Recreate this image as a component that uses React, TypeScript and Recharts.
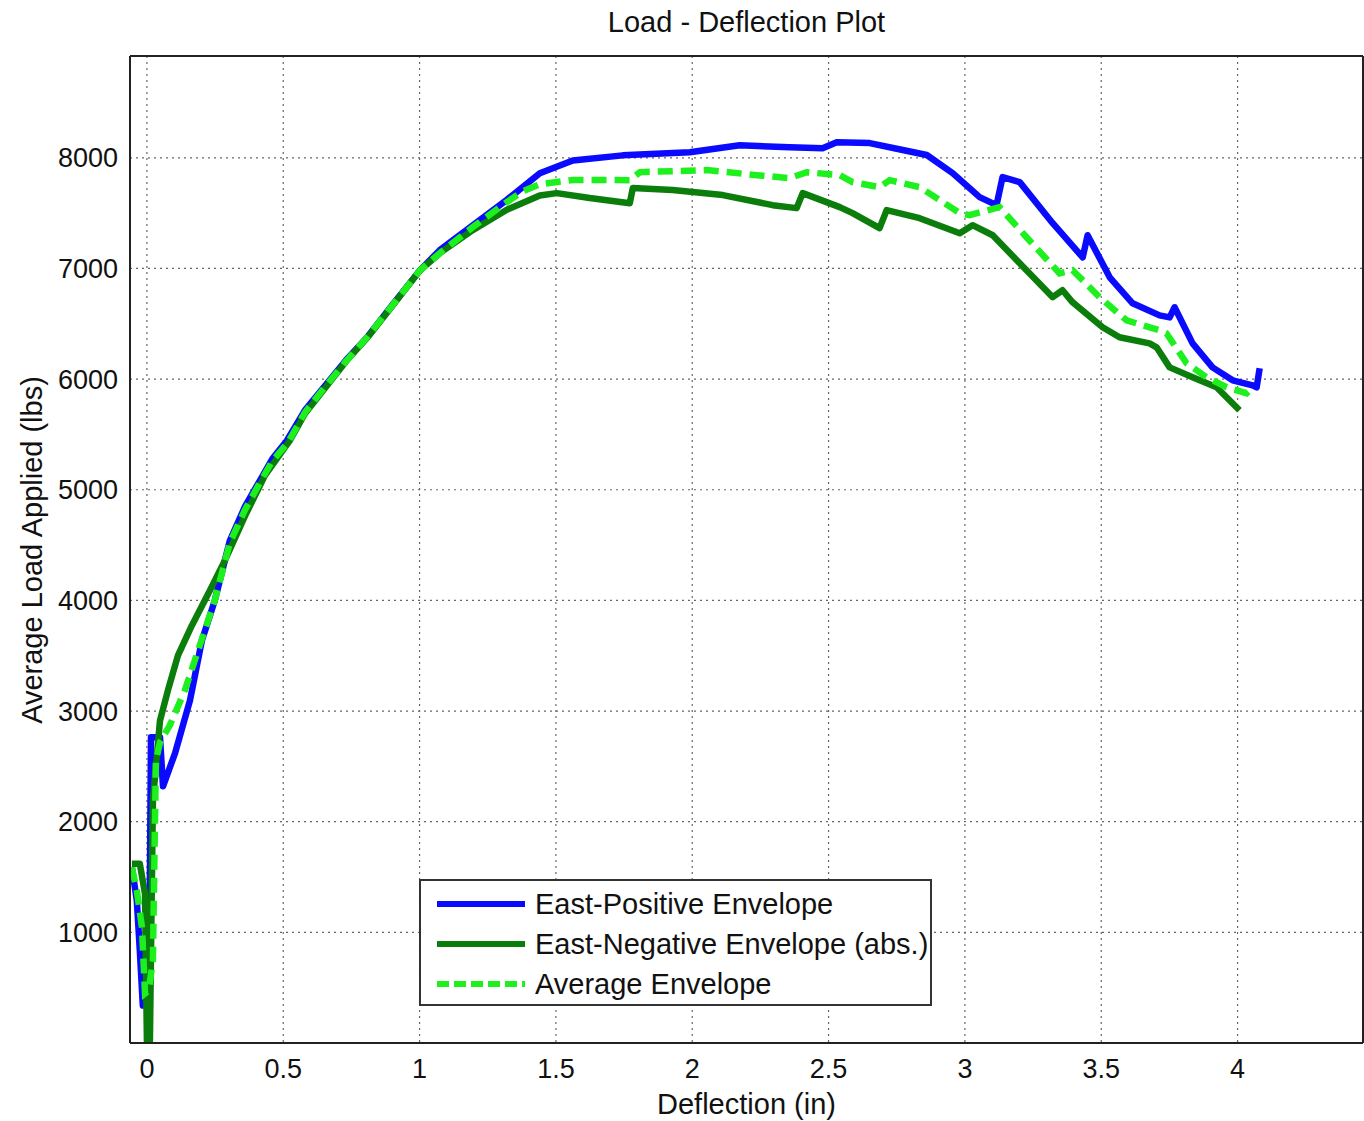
import React from "react";
import {
  LineChart,
  Line,
  XAxis,
  YAxis,
  CartesianGrid,
  Legend,
} from "recharts";

// deflection (in) / load (lbs)
const posX = [-0.055, -0.037, -0.026, -0.015, 0.004, 0.011, 0.015, 0.048, 0.059, 0.103, 0.158, 0.202, 0.249, 0.304, 0.36, 0.414, 0.46, 0.513, 0.58, 0.66, 0.73, 0.807, 0.9, 1.001, 1.074, 1.195, 1.32, 1.441, 1.562, 1.745, 1.991, 2.174, 2.357, 2.478, 2.53, 2.651, 2.772, 2.86, 2.955, 3.054, 3.116, 3.138, 3.201, 3.322, 3.432, 3.45, 3.531, 3.615, 3.714, 3.751, 3.769, 3.835, 3.908, 3.982, 4.055, 4.07, 4.081];
const posY = [1587, 1288, 835, 338, 383, 1468, 2763, 2763, 2320, 2618, 3097, 3640, 4000, 4538, 4850, 5081, 5280, 5443, 5720, 5959, 6170, 6376, 6670, 6982, 7165, 7390, 7620, 7860, 7975, 8022, 8050, 8113, 8095, 8086, 8140, 8133, 8070, 8025, 7862, 7645, 7572, 7825, 7780, 7409, 7100, 7300, 6920, 6685, 6576, 6558, 6649, 6323, 6106, 5989, 5944, 5926, 6098];

const negX = [-0.055, -0.026, -0.007, 0.0, 0.011, 0.022, 0.048, 0.077, 0.114, 0.165, 0.231, 0.286, 0.359, 0.433, 0.524, 0.58, 0.66, 0.73, 0.807, 0.9, 1.001, 1.074, 1.195, 1.32, 1.441, 1.503, 1.624, 1.771, 1.782, 1.928, 2.112, 2.295, 2.383, 2.405, 2.541, 2.588, 2.687, 2.713, 2.834, 2.981, 3.028, 3.102, 3.201, 3.322, 3.358, 3.395, 3.505, 3.567, 3.677, 3.703, 3.751, 3.835, 3.923, 4.007];
const negY = [1620, 1620, 1350, 20, 20, 2191, 2914, 3186, 3503, 3774, 4090, 4362, 4760, 5130, 5443, 5690, 5940, 6160, 6370, 6660, 6982, 7138, 7346, 7530, 7660, 7681, 7636, 7590, 7726, 7708, 7663, 7572, 7545, 7681, 7554, 7500, 7364, 7527, 7454, 7318, 7391, 7300, 7047, 6740, 6803, 6694, 6468, 6378, 6323, 6287, 6106, 6016, 5926, 5718];

const avgX = [-0.055, -0.037, -0.018, -0.007, 0.007, 0.022, 0.033, 0.048, 0.084, 0.139, 0.194, 0.249, 0.304, 0.36, 0.414, 0.46, 0.517, 0.58, 0.66, 0.73, 0.807, 0.9, 1.001, 1.074, 1.195, 1.32, 1.38, 1.441, 1.562, 1.771, 1.808, 2.053, 2.237, 2.357, 2.42, 2.541, 2.588, 2.687, 2.724, 2.834, 2.981, 3.017, 3.127, 3.226, 3.347, 3.395, 3.494, 3.593, 3.714, 3.739, 3.813, 3.886, 3.96, 4.033, 4.055];
const avgY = [1587, 1378, 1044, 447, 475, 745, 2553, 2718, 2871, 3186, 3594, 4000, 4520, 4820, 5063, 5260, 5425, 5700, 5950, 6160, 6376, 6665, 6982, 7138, 7373, 7600, 7700, 7760, 7800, 7798, 7870, 7889, 7843, 7816, 7870, 7843, 7780, 7735, 7798, 7735, 7500, 7482, 7554, 7282, 6956, 6984, 6740, 6531, 6441, 6414, 6143, 6016, 5926, 5872, 5926];

const xTicks = [0, 0.5, 1, 1.5, 2, 2.5, 3, 3.5, 4];
const yTicks = [1000, 2000, 3000, 4000, 5000, 6000, 7000, 8000];
const seriesNames = ["East-Positive Envelope", "East-Negative Envelope (abs.)", "Average Envelope"];

const toPoints = (xs: number[], ys: number[]) => xs.map((x, i) => ({ x, y: ys[i] }));
const posData = toPoints(posX, posY);
const negData = toPoints(negX, negY);
const avgData = toPoints(avgX, avgY);

const X_DOMAIN: [number, number] = [-0.062, 4.46];
const Y_DOMAIN: [number, number] = [0, 8920];
const FONT = "'Liberation Sans', Arial, sans-serif";
const BLUE = "#0a0aff";
const DARK = "#0b7d0b";
const LIGHT = "#1ef01e";

function LegendBox() {
  const rows = [
    { name: seriesNames[0], color: BLUE, dash: undefined },
    { name: seriesNames[1], color: DARK, dash: undefined },
    { name: seriesNames[2], color: LIGHT, dash: "12 5" },
  ];
  return (
    <div
      style={{
        width: 513,
        height: 127,
        boxSizing: "border-box",
        border: "2px solid #333",
        background: "#fff",
        fontFamily: FONT,
        fontSize: 29,
        color: "#111",
        paddingTop: 3,
      }}
    >
      {rows.map((r) => (
        <div key={r.name} style={{ display: "flex", alignItems: "center", height: 40 }}>
          <svg width={114} height={20} style={{ flex: "none" }}>
            <line x1={16} x2={104} y1={10} y2={10} stroke={r.color} strokeWidth={6} strokeDasharray={r.dash} />
          </svg>
          <span>{r.name}</span>
        </div>
      ))}
    </div>
  );
}

export default function App() {
  const labelStyle = {
    position: "absolute" as const,
    textAlign: "center" as const,
    fontFamily: FONT,
    fontSize: 29,
    lineHeight: "34px",
    color: "#111",
  };
  return (
    <div style={{ position: "absolute", left: 0, top: 0, width: 1364, height: 1121, background: "#fff" }}>
      <div style={{ ...labelStyle, left: 130, width: 1233, top: 5 }}>Load - Deflection Plot</div>
      <LineChart
        width={1364}
        height={1121}
        margin={{ top: 56, right: 1, bottom: 18, left: 30 }}
        style={{ fontFamily: FONT }}
      >
        <CartesianGrid stroke="#666" strokeDasharray="2 4" strokeWidth={1.2} />
        <XAxis
          dataKey="x"
          type="number"
          domain={X_DOMAIN}
          ticks={xTicks}
          allowDataOverflow
          height={60}
          tickLine={false}
          tickSize={0}
          tickMargin={16}
          axisLine={{ stroke: "#222", strokeWidth: 2 }}
          tick={{ fill: "#111", fontSize: 27 }}
        />
        <XAxis xAxisId="bIn" dataKey="x" type="number" domain={X_DOMAIN} ticks={xTicks} allowDataOverflow mirror tick={false} axisLine={false} tickSize={9} tickLine={{ stroke: "#222", strokeWidth: 2 }} />
        <XAxis xAxisId="top" orientation="top" dataKey="x" type="number" domain={X_DOMAIN} ticks={xTicks} allowDataOverflow mirror tick={false} tickSize={9} axisLine={{ stroke: "#222", strokeWidth: 2 }} tickLine={{ stroke: "#222", strokeWidth: 2 }} />
        <YAxis
          type="number"
          domain={Y_DOMAIN}
          ticks={yTicks}
          allowDataOverflow
          width={100}
          tickLine={false}
          tickSize={0}
          tickMargin={12}
          axisLine={{ stroke: "#222", strokeWidth: 2 }}
          tick={{ fill: "#111", fontSize: 27 }}
        />
        <YAxis yAxisId="lIn" type="number" domain={Y_DOMAIN} ticks={yTicks} allowDataOverflow mirror tick={false} axisLine={false} tickSize={9} tickLine={{ stroke: "#222", strokeWidth: 2 }} />
        <YAxis yAxisId="right" orientation="right" type="number" domain={Y_DOMAIN} ticks={yTicks} allowDataOverflow mirror tick={false} tickSize={9} axisLine={{ stroke: "#222", strokeWidth: 2 }} tickLine={{ stroke: "#222", strokeWidth: 2 }} />
        <Line data={posData} dataKey="y" name={seriesNames[0]} type="linear" stroke={BLUE} strokeWidth={6.5} dot={false} isAnimationActive={false} strokeLinejoin="round" />
        <Line data={negData} dataKey="y" name={seriesNames[1]} type="linear" stroke={DARK} strokeWidth={6.5} dot={false} isAnimationActive={false} strokeLinejoin="round" />
        <Line data={avgData} dataKey="y" name={seriesNames[2]} type="linear" stroke={LIGHT} strokeWidth={6.5} strokeDasharray="15 8" dot={false} isAnimationActive={false} />
        <Legend
          layout="horizontal"
          verticalAlign="middle"
          align="center"
          content={() => <LegendBox />}
          wrapperStyle={{ left: 419, top: 879, width: 513, height: 127 }}
        />
      </LineChart>
      <div style={{ ...labelStyle, left: 130, width: 1233, top: 1087 }}>Deflection (in)</div>
      <div
        style={{
          ...labelStyle,
          left: 32 - 250,
          top: 550 - 17,
          width: 500,
          transform: "rotate(-90deg)",
        }}
      >
        Average Load Applied (lbs)
      </div>
    </div>
  );
}
